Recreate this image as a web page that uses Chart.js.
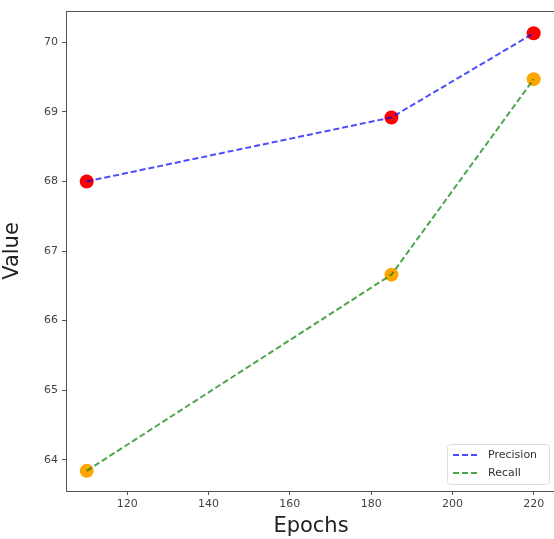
<!DOCTYPE html>
<html>
<head>
<meta charset="utf-8">
<script src="https://cdn.jsdelivr.net/npm/chart.js@4"></script>
<style>
  html, body { margin: 0; padding: 0; background: #fff; overflow: hidden; }
  #wrap { width: 554px; height: 539px; overflow: hidden; }
</style>
</head>
<body>
<div id="wrap"><canvas id="chart" width="563" height="539"></canvas></div>
<script>
"use strict";

// Values.
const epochs = [110, 185, 220];
const precision = [68.0, 68.92, 70.13];
const recall = [63.84, 66.66, 69.47];
const xTicks = [120, 140, 160, 180, 200, 220];
const yTicks = [64, 65, 66, 67, 68, 69, 70];

const FONT = "'DejaVu Sans', sans-serif";
const TICK_COLOR = "#444";
const FRAME_COLOR = "#555";

const toPoints = (ys) => epochs.map((x, i) => ({ x, y: ys[i] }));

// Box round the plot area, like a matplotlib axes frame.
// (The right side falls just outside the visible window, as in the reference.)
const framePlugin = {
  id: "frame",
  afterDatasetsDraw(chart) {
    const { ctx, chartArea: a } = chart;
    ctx.save();
    ctx.strokeStyle = FRAME_COLOR;
    ctx.lineWidth = 1;
    ctx.strokeRect(a.left + 0.5, a.top + 0.5, a.right - a.left, a.bottom - a.top);
    ctx.restore();
  },
};

// Legend drawn inside the plot, lower right.
const insideLegend = {
  id: "insideLegend",
  afterDraw(chart) {
    const { ctx, chartArea: a } = chart;
    const items = chart.data.datasets.filter((d) => d.showInLegend);
    const w = 102, h = 40;
    const x = 447, y = a.bottom - h - 7;
    ctx.save();
    ctx.fillStyle = "rgba(255,255,255,0.8)";
    ctx.strokeStyle = "#ddd";
    ctx.lineWidth = 1;
    ctx.beginPath();
    ctx.roundRect(x + 0.5, y + 0.5, w, h, 3);
    ctx.fill();
    ctx.stroke();
    ctx.font = "11px " + FONT;
    ctx.textBaseline = "middle";
    items.forEach((d, i) => {
      const cy = y + 11 + i * 18;
      ctx.strokeStyle = d.borderColor;
      ctx.lineWidth = 2;
      ctx.setLineDash(d.borderDash);
      ctx.beginPath();
      ctx.moveTo(x + 6, cy);
      ctx.lineTo(x + 32, cy);
      ctx.stroke();
      ctx.setLineDash([]);
      ctx.fillStyle = "#333";
      ctx.fillText(d.label, x + 41, cy);
    });
    ctx.restore();
  },
};

function lineSet(label, ys, color) {
  return {
    type: "line",
    label,
    data: toPoints(ys),
    borderColor: color,
    borderWidth: 2,
    borderDash: [6, 3],
    pointRadius: 0,
    fill: false,
    showInLegend: true,
    order: 0,
  };
}

function dotSet(label, ys, color) {
  return {
    type: "scatter",
    label,
    data: toPoints(ys),
    backgroundColor: color,
    borderWidth: 0,
    pointRadius: 7,
    order: 1,
  };
}

new Chart(document.getElementById("chart"), {
  data: {
    datasets: [
      dotSet("Precision points", precision, "#ff0000"),
      dotSet("Recall points", recall, "#ffa500"),
      lineSet("Precision", precision, "rgba(0,0,255,0.7)"),
      lineSet("Recall", recall, "rgba(0,128,0,0.7)"),
    ],
  },
  options: {
    responsive: false,
    animation: false,
    layout: { padding: { left: 0, top: 11, right: 2, bottom: 0 } },
    plugins: { legend: { display: false }, tooltip: { enabled: false } },
    scales: {
      x: {
        type: "linear",
        min: 104.9,
        max: 225.5,
        afterBuildTicks: (s) => { s.ticks = xTicks.map((v) => ({ value: v })); },
        afterFit: (s) => { s.height = 48; },
        grid: { drawOnChartArea: false, tickLength: 4, color: FRAME_COLOR },
        border: { display: false },
        ticks: { font: { family: FONT, size: 11 }, color: TICK_COLOR, padding: 3, maxRotation: 0 },
        title: { display: true, text: "Epochs", font: { family: FONT, size: 21 }, color: "#222", padding: { top: 0, bottom: 0 } },
      },
      y: {
        type: "linear",
        min: 63.55,
        max: 70.45,
        afterBuildTicks: (s) => { s.ticks = yTicks.map((v) => ({ value: v })); },
        afterFit: (s) => { s.width = 66; },
        grid: { drawOnChartArea: false, tickLength: 4, color: FRAME_COLOR },
        border: { display: false },
        ticks: { font: { family: FONT, size: 11 }, color: TICK_COLOR, padding: 4 },
        title: { display: true, text: "Value", font: { family: FONT, size: 21 }, color: "#222", padding: { top: 0, bottom: 4 } },
      },
    },
  },
  plugins: [framePlugin, insideLegend],
});
</script>
</body>
</html>
